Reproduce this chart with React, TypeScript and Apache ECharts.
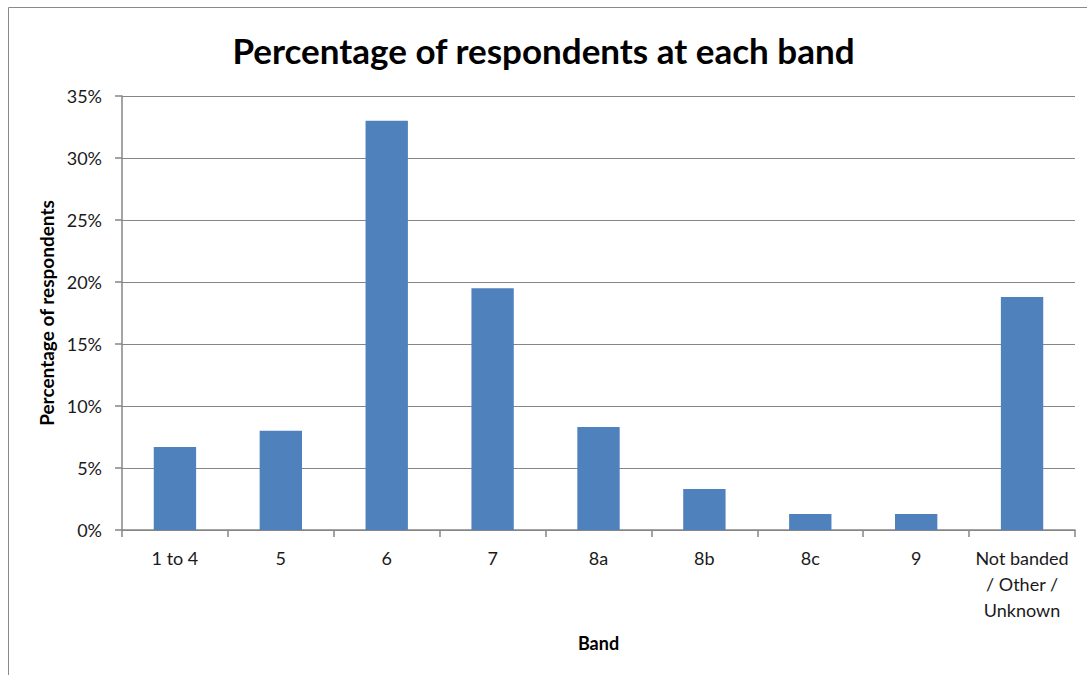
import React, { useEffect, useRef } from "react";
import * as echarts from "echarts";

const categories = ["1 to 4", "5", "6", "7", "8a", "8b", "8c", "9", "Not banded\n/ Other /\nUnknown"];
const values = [6.7, 8.0, 33.0, 19.5, 8.3, 3.3, 1.3, 1.3, 18.8];
const titleText = "Percentage of respondents at each band";
const xName = "Band";
const yName = "Percentage of respondents";

export default function App() {
  const ref = useRef<HTMLDivElement>(null);
  useEffect(() => {
    document.body.style.margin = "0";
    const chart = echarts.init(ref.current!, null, { renderer: "svg" });
    const font = "Lato, 'Open Sans', sans-serif";
    chart.setOption({
      animation: false,
      textStyle: { fontFamily: font },
      title: {
        text: titleText,
        left: "center",
        top: 27,
        textStyle: { fontFamily: font, fontSize: 35, fontWeight: "bold", color: "#000" },
      },
      graphic: [
        {
          type: "rect",
          shape: { x: 8.5, y: 7.5, width: 1200, height: 800 },
          style: { fill: "none", stroke: "#8a8a8a", lineWidth: 1 },
          silent: true,
        },
      ],
      grid: { left: 122, top: 96, right: 12, bottom: 145, containLabel: false },
      xAxis: {
        type: "category",
        data: categories,
        name: xName,
        nameLocation: "middle",
        nameGap: 104,
        nameTextStyle: { fontFamily: font, fontSize: 18, fontWeight: "bold", color: "#000" },
        axisLine: { lineStyle: { color: "#868686", width: 1.5 } },
        axisTick: { show: true, length: 7, lineStyle: { color: "#868686", width: 1.5 } },
        axisLabel: { fontFamily: font, fontSize: 18, color: "#1a1a1a", margin: 15, lineHeight: 26, interval: 0 },
      },
      yAxis: {
        type: "value",
        min: 0,
        max: 35,
        interval: 5,
        name: yName,
        nameLocation: "middle",
        nameGap: 66,
        nameTextStyle: { fontFamily: font, fontSize: 19, fontWeight: "bold", color: "#000" },
        axisLine: { show: true, lineStyle: { color: "#868686", width: 1.5 } },
        axisTick: { show: true, length: 7, lineStyle: { color: "#868686", width: 1.5 } },
        splitLine: { show: true, lineStyle: { color: "#868686", width: 1.2 } },
        axisLabel: { fontFamily: font, fontSize: 18, color: "#1a1a1a", margin: 20, formatter: "{value}%" },
      },
      series: [
        {
          type: "bar",
          data: values,
          barWidth: "40%",
          itemStyle: { color: "#4f81bd" },
        },
      ],
    });
    return () => chart.dispose();
  }, []);
  return <div ref={ref} style={{ width: 1087, height: 675 }} />;
}
